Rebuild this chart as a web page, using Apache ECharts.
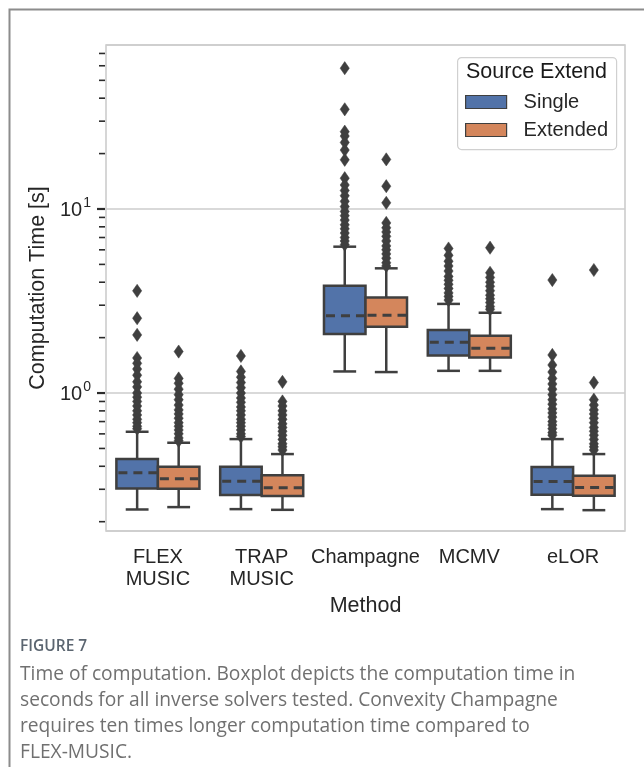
<!DOCTYPE html>
<html>
<head>
<meta charset="utf-8">
<script src="https://cdn.jsdelivr.net/npm/echarts@6/dist/echarts.min.js"></script>
<style>
html,body{margin:0;padding:0;background:#fff;}
#chart{width:644px;height:767px;}
</style>
</head>
<body>
<div id="chart"></div>
<script>
// ---------------- data ----------------
const categories = ['FLEX\nMUSIC', 'TRAP\nMUSIC', 'Champagne', 'MCMV', 'eLOR'];
const seriesNames = ['Single', 'Extended'];
// [lower whisker, Q1, median, Q3, upper whisker] in seconds
const singleStats = [
  [0.233, 0.303, 0.369, 0.438, 0.616],
  [0.234, 0.279, 0.332, 0.398, 0.562],
  [1.31, 2.09, 2.63, 3.83, 6.24],
  [1.32, 1.60, 1.89, 2.20, 3.05],
  [0.234, 0.280, 0.331, 0.396, 0.562]
];
const extendedStats = [
  [0.240, 0.302, 0.342, 0.398, 0.537],
  [0.232, 0.276, 0.306, 0.357, 0.466],
  [1.30, 2.29, 2.65, 3.30, 4.76],
  [1.32, 1.56, 1.75, 2.05, 2.73],
  [0.231, 0.277, 0.307, 0.355, 0.466]
];
// outliers per category
const singleOutliers = [
  [3.59, 2.55, 2.07, 1.55, 1.45, 1.35, 1.25, 1.15, 1.08, 1.0, 0.95, 0.9, 0.85, 0.8, 0.76, 0.72, 0.69, 0.66, 0.64],
  [1.59, 1.31, 1.22, 1.14, 1.07, 1.0, 0.94, 0.89, 0.84, 0.8, 0.76, 0.72, 0.69, 0.66, 0.63, 0.6, 0.58],
  [58.2, 34.8, 26.3, 24.9, 23.0, 20.9, 18.5, 14.7, 13.5, 12.6, 11.8, 11.0, 10.3, 9.7, 9.2, 8.7, 8.2, 7.8, 7.4, 7.0, 6.7, 6.4],
  [6.1, 5.6, 5.2, 4.9, 4.6, 4.3, 4.1, 3.9, 3.7, 3.5, 3.35, 3.2],
  [4.11, 1.61, 1.42, 1.3, 1.2, 1.12, 1.05, 0.98, 0.92, 0.87, 0.82, 0.78, 0.74, 0.7, 0.67, 0.64, 0.61, 0.59]
];
const extendedOutliers = [
  [1.68, 1.2, 1.13, 1.05, 0.98, 0.92, 0.86, 0.81, 0.77, 0.73, 0.69, 0.66, 0.63, 0.6, 0.57, 0.55],
  [1.15, 0.9, 0.85, 0.8, 0.76, 0.72, 0.68, 0.65, 0.62, 0.59, 0.56, 0.53, 0.51, 0.49],
  [18.6, 13.3, 10.8, 8.4, 7.9, 7.5, 7.1, 6.7, 6.3, 6.0, 5.7, 5.4, 5.1, 4.9],
  [6.16, 4.5, 4.25, 4.0, 3.8, 3.6, 3.4, 3.25, 3.1, 2.95, 2.85],
  [4.66, 1.14, 0.92, 0.86, 0.81, 0.77, 0.73, 0.69, 0.65, 0.62, 0.59, 0.56, 0.53, 0.51, 0.49]
];
const yMin = 0.178;
const yMax = 77.8;
const majorTicks = [1, 10];
const minorTicks = [0.2, 0.3, 0.4, 0.5, 0.6, 0.7, 0.8, 0.9, 2, 3, 4, 5, 6, 7, 8, 9, 20, 30, 40, 50, 60, 70];
const yAxisTitle = 'Computation Time [s]';
const xAxisTitle = 'Method';
const legendTitle = 'Source Extend';
const figureLabel = 'FIGURE 7';
const captionText = 'Time of computation. Boxplot depicts the computation time in\nseconds for all inverse solvers tested. Convexity Champagne\nrequires ten times longer computation time compared to\nFLEX-MUSIC.';

// ---------------- styles ----------------
const COLORS = ['#5273a9', '#d4865c'];
const EDGE = '#3f3f3f';
const FONT = "'Liberation Sans', Arial, sans-serif";
const CAPFONT = "'Open Sans', sans-serif";

function boxRows(stats) {
  return stats.map((s, i) => [i, s[0], s[1], s[2], s[3], s[4]]);
}
function outlierRows(out) {
  const rows = [];
  out.forEach((arr, i) => arr.forEach(v => rows.push([i, v])));
  return rows;
}

function makeBoxRender(sign, color) {
  return function (params, api) {
    const ci = api.value(0);
    const med = api.value(3);
    const c0 = api.coord([ci, med]);
    const band = api.coord([1, med])[0] - api.coord([0, med])[0];
    const w = band * 0.4;
    const cx = c0[0] + sign * w / 2;
    const yLo = api.coord([ci, api.value(1)])[1];
    const yQ1 = api.coord([ci, api.value(2)])[1];
    const yMed = c0[1];
    const yQ3 = api.coord([ci, api.value(4)])[1];
    const yHi = api.coord([ci, api.value(5)])[1];
    const capW = w * 0.55;
    const ls = {stroke: EDGE, lineWidth: 2.5};
    return {
      type: 'group',
      children: [
        {type: 'line', shape: {x1: cx, y1: yLo, x2: cx, y2: yQ1}, style: ls},
        {type: 'line', shape: {x1: cx, y1: yQ3, x2: cx, y2: yHi}, style: ls},
        {type: 'line', shape: {x1: cx - capW / 2, y1: yLo, x2: cx + capW / 2, y2: yLo}, style: ls},
        {type: 'line', shape: {x1: cx - capW / 2, y1: yHi, x2: cx + capW / 2, y2: yHi}, style: ls},
        {type: 'rect', shape: {x: cx - w / 2, y: yQ3, width: w, height: yQ1 - yQ3},
          style: {fill: color, stroke: EDGE, lineWidth: 2.5}},
        {type: 'line', shape: {x1: cx - w / 2 + 2, y1: yMed, x2: cx + w / 2 - 1, y2: yMed},
          style: {stroke: EDGE, lineWidth: 3, lineDash: [9, 6]}}
      ]
    };
  };
}

function makeOutlierRender(sign) {
  return function (params, api) {
    const ci = api.value(0);
    const v = api.value(1);
    const c = api.coord([ci, v]);
    const band = api.coord([1, v])[0] - api.coord([0, v])[0];
    const cx = c[0] + sign * band * 0.2;
    const cy = c[1];
    const hw = 4.6, hh = 6.6;
    return {
      type: 'polygon',
      shape: {points: [[cx, cy - hh], [cx + hw, cy], [cx, cy + hh], [cx - hw, cy]]},
      style: {fill: EDGE, stroke: EDGE, lineWidth: 0.5}
    };
  };
}

function tickRender(params, api) {
  const v = api.value(1);
  const major = api.value(2) === 1;
  const y = api.coord([0, v])[1];
  const x = params.coordSys.x;
  const len = major ? 8 : 6;
  return {
    type: 'line',
    shape: {x1: x - len - 1, y1: y, x2: x - 1, y2: y},
    style: {stroke: '#2b2b2b', lineWidth: major ? 2.2 : 1.6}
  };
}

const tickRows = majorTicks.map(v => [0, v, 1]).concat(minorTicks.map(v => [0, v, 0]));

const chart = echarts.init(document.getElementById('chart'), null, {renderer: 'canvas'});
const option = {
  animation: false,
  backgroundColor: '#ffffff',
  textStyle: {fontFamily: FONT},
  grid: {
    left: 106, top: 45, right: 19, bottom: 236,
    show: true, borderColor: '#cccccc', borderWidth: 1.6, backgroundColor: '#ffffff'
  },
  xAxis: {
    type: 'category',
    data: categories,
    boundaryGap: true,
    axisLine: {show: false},
    axisTick: {show: false},
    splitLine: {show: false},
    axisLabel: {interval: 0, fontSize: 20, color: '#262626', lineHeight: 22, margin: 15, fontFamily: FONT},
    name: xAxisTitle,
    nameLocation: 'middle',
    nameGap: 62,
    nameTextStyle: {fontSize: 21.5, color: '#262626', fontFamily: FONT}
  },
  yAxis: {
    type: 'log',
    logBase: 10,
    min: yMin,
    max: yMax,
    axisLine: {show: false},
    axisTick: {show: false},
    splitLine: {show: true, lineStyle: {color: '#cccccc', width: 1.6}},
    axisLabel: {
      margin: 15,
      showMinLabel: false,
      showMaxLabel: false,
      color: '#262626',
      fontFamily: FONT,
      formatter: function (v) {
        const e = Math.log10(v);
        if (Math.abs(e - Math.round(e)) < 1e-6) return '{b|10}{s|' + Math.round(e) + '}';
        return '';
      },
      rich: {
        b: {fontSize: 20, color: '#262626', fontFamily: FONT, verticalAlign: 'bottom', lineHeight: 22},
        s: {fontSize: 14, color: '#262626', fontFamily: FONT, verticalAlign: 'bottom', lineHeight: 22, padding: [0, 0, 10, 1]}
      }
    },
    name: yAxisTitle,
    nameLocation: 'middle',
    nameGap: 55,
    nameTextStyle: {fontSize: 21.5, color: '#262626', fontFamily: FONT}
  },
  legend: {
    data: seriesNames,
    orient: 'vertical',
    left: 465,
    top: 92,
    z: 60,
    icon: 'rect',
    itemWidth: 41,
    itemHeight: 13,
    itemGap: 8,
    padding: 0,
    itemStyle: {borderColor: EDGE, borderWidth: 1.2},
    textStyle: {fontSize: 20, lineHeight: 20, color: '#262626', fontFamily: FONT, padding: [0, 0, 0, 12]},
    selectedMode: false
  },
  graphic: [
    {type: 'rect', left: 7, top: 7, z: -10, silent: true,
      shape: {width: 700, height: 800}, style: {fill: 'none', stroke: '#8c8c8c', lineWidth: 2}},
    {type: 'rect', left: 457, top: 57, z: 20, silent: true,
      shape: {width: 159, height: 92, r: 4}, style: {fill: 'rgba(255,255,255,0.8)', stroke: '#d0d0d0', lineWidth: 1.2}},
    {type: 'text', left: 466, top: 61, z: 21,
      style: {text: legendTitle, fontSize: 21.5, fill: '#1a1a1a', fontFamily: FONT}},
    {type: 'text', left: 20, top: 639,
      style: {text: figureLabel, fontSize: 15.5, fontWeight: 600, fill: '#5b6570', fontFamily: CAPFONT}},
    {type: 'text', left: 20, top: 662,
      style: {text: captionText, fontSize: 19.2, lineHeight: 25.8, fill: '#707070', fontFamily: CAPFONT}}
  ],
  series: [
    {name: 'Single', type: 'custom', renderItem: makeBoxRender(-1, COLORS[0]),
      itemStyle: {color: COLORS[0], borderColor: EDGE},
      encode: {x: 0, y: [1, 2, 3, 4, 5]}, data: boxRows(singleStats), z: 3},
    {name: 'Extended', type: 'custom', renderItem: makeBoxRender(1, COLORS[1]),
      itemStyle: {color: COLORS[1], borderColor: EDGE},
      encode: {x: 0, y: [1, 2, 3, 4, 5]}, data: boxRows(extendedStats), z: 3},
    {name: 'Single outliers', type: 'custom', renderItem: makeOutlierRender(-1),
      encode: {x: 0, y: 1}, data: outlierRows(singleOutliers), z: 4},
    {name: 'Extended outliers', type: 'custom', renderItem: makeOutlierRender(1),
      encode: {x: 0, y: 1}, data: outlierRows(extendedOutliers), z: 4},
    {name: 'y ticks', type: 'custom', renderItem: tickRender, clip: false, silent: true,
      encode: {x: 0, y: 1}, data: tickRows, z: 5}
  ]
};
chart.setOption(option);
</script>
</body>
</html>
